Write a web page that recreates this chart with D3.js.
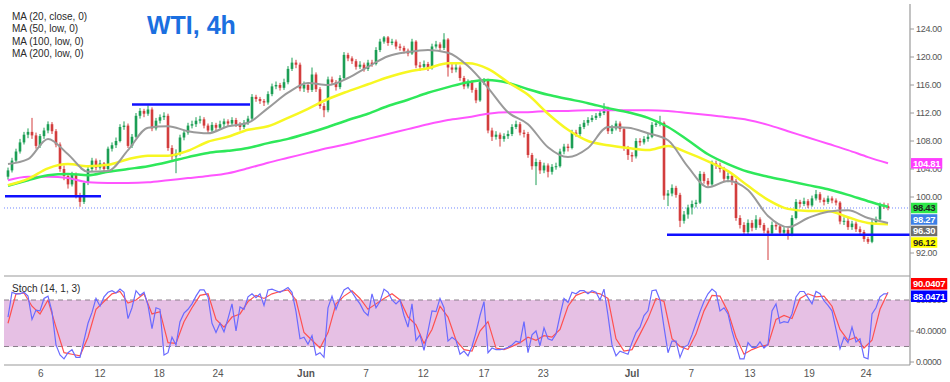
<!DOCTYPE html>
<html><head><meta charset="utf-8">
<script src="https://cdn.jsdelivr.net/npm/d3@7"></script>
<style>html,body{margin:0;padding:0;background:#fff;} svg{display:block;font-family:Arial,"Liberation Sans",sans-serif;}</style>
</head><body><svg id="c" width="950" height="382"></svg>
<script>
// ---------------- DATA ----------------
const firstOpen = 102.9;
const closes = [
103.8,105.2,106.5,107.8,108.9,109.3,108.8,107.3,108.7,109.5,
110.4,109.4,107.5,104.0,103.0,101.8,103.2,100.2,99.3,102.0,
104.0,105.2,104.2,104.8,104.0,106.9,107.4,108.0,110.0,110.2,
107.3,108.6,111.6,112.3,111.9,112.5,109.8,110.9,111.4,111.6,
107.0,105.8,106.2,108.5,109.2,110.2,110.4,110.9,111.1,110.2,
109.5,110.3,109.9,110.4,110.8,110.5,111.0,110.4,110.0,110.6,
111.2,114.3,114.0,113.7,113.5,114.7,115.8,116.0,115.6,116.4,
118.3,119.2,118.9,115.5,116.0,115.3,117.5,115.4,113.0,112.4,
116.8,116.4,115.7,117.0,120.3,119.8,119.4,118.6,118.9,118.3,
119.2,119.0,121.0,122.2,122.8,122.0,122.2,121.5,121.3,120.9,
120.5,122.2,118.8,118.6,119.0,118.4,121.5,121.8,121.3,122.5,
118.5,118.2,118.5,117.0,115.8,116.4,115.3,113.8,116.4,116.6,
109.5,108.6,108.9,108.3,108.7,109.0,110.0,110.4,109.2,109.0,
106.0,104.4,105.0,103.8,104.5,103.6,104.3,104.4,106.5,107.2,
107.0,109.2,109.0,110.0,110.6,111.0,111.3,111.6,112.0,112.6,
109.4,109.8,110.5,109.7,107.0,106.0,105.8,108.0,107.8,108.3,
108.6,110.3,110.5,110.6,100.2,100.5,101.3,100.3,96.6,97.5,
98.5,99.0,99.2,103.3,102.3,101.8,104.8,104.5,104.0,102.6,
103.0,102.3,97.0,96.0,95.0,96.3,95.6,96.8,96.0,95.2,
94.8,96.0,95.8,94.9,95.3,94.6,97.0,99.3,99.0,99.4,
98.8,99.8,100.4,99.6,99.3,99.8,99.5,99.2,96.5,96.6,
95.7,96.2,95.4,95.0,94.0,93.6,96.4,96.8,98.8,98.7,
98.43];
const highs = [
104.2,105.6,106.9,108.3,109.3,109.8,111.3,109.2,109.0,109.9,
110.8,110.7,109.7,107.8,104.5,103.4,103.6,103.5,100.6,102.3,
104.3,105.6,105.5,105.3,105.0,107.2,107.8,108.5,110.4,110.8,
110.5,109.0,112.0,112.7,112.6,113.1,112.8,111.3,111.8,112.1,
111.9,107.4,106.8,108.9,109.6,110.6,110.9,111.4,111.6,111.4,
110.5,110.7,110.6,110.9,111.2,111.1,111.4,111.3,110.7,111.0,
111.6,114.7,114.6,114.3,114.0,115.1,116.2,116.5,116.3,116.9,
118.7,119.9,119.6,119.2,116.5,116.3,118.5,117.8,115.7,113.4,
117.2,117.2,116.7,117.4,120.7,120.6,120.1,119.7,119.4,119.2,
119.6,119.6,121.4,122.6,123.0,123.0,122.6,122.5,121.9,121.6,
121.2,122.6,122.4,119.3,119.5,119.3,121.9,122.3,122.1,123.4,
122.7,119.0,119.0,118.8,117.3,116.8,116.7,115.6,116.8,117.0,
116.9,109.9,109.4,109.2,109.1,109.5,110.4,110.9,110.7,109.6,
109.3,106.3,105.5,105.3,104.9,104.8,104.7,104.9,106.9,107.6,
107.6,109.6,109.6,110.4,111.0,111.4,111.7,112.0,112.4,113.4,
112.9,110.3,110.9,110.8,110.0,107.3,106.4,108.4,108.4,108.7,
109.0,110.7,111.0,111.6,110.8,101.0,101.8,101.6,100.6,98.0,
98.9,99.5,99.6,103.7,103.6,102.7,105.2,105.2,104.9,104.3,
103.5,103.3,102.6,97.4,96.4,96.8,96.7,97.4,97.1,96.3,
95.6,96.5,96.4,96.1,95.7,95.6,97.4,99.7,99.6,99.9,
99.7,100.2,101.0,100.7,99.9,100.2,100.1,99.8,99.4,97.1,
97.0,96.6,96.5,95.8,95.3,94.3,96.8,97.2,99.2,99.2,
99.1];
const lows = [
102.5,103.5,104.9,106.2,107.5,108.4,108.3,106.9,107.0,108.3,
109.1,109.0,107.1,103.6,102.4,101.2,101.5,99.8,98.6,99.0,
101.7,103.7,103.8,103.9,103.4,103.8,106.5,107.0,107.8,109.6,
107.0,107.0,108.4,111.2,111.4,111.6,109.4,109.5,110.5,111.0,
106.6,105.3,103.4,105.9,108.1,108.9,109.8,110.0,110.5,109.8,
109.0,109.2,109.4,109.6,110.0,110.1,110.2,110.0,109.5,109.7,
110.3,111.0,113.6,113.3,113.0,113.2,114.4,115.4,115.2,115.3,
116.1,118.0,118.4,115.1,115.0,114.9,115.0,115.0,112.6,111.4,
112.1,116.0,115.2,115.4,116.8,119.4,119.0,118.2,118.3,117.9,
118.0,118.6,118.8,120.7,121.9,121.6,121.7,121.1,120.9,120.5,
120.1,120.3,118.4,118.0,118.2,118.0,118.2,121.2,120.9,121.0,
117.2,117.7,117.8,116.6,115.4,115.5,114.9,113.4,113.6,116.0,
109.1,108.0,108.2,107.2,107.9,108.3,108.7,109.7,108.8,108.5,
105.6,103.9,101.7,103.3,103.4,102.8,103.2,103.9,104.2,106.1,
106.5,106.8,108.6,108.7,109.7,110.2,110.7,111.0,111.3,111.7,
109.0,109.0,109.5,109.3,106.6,105.3,105.0,105.5,107.3,107.5,
107.9,108.4,110.0,110.1,99.6,98.7,100.1,99.9,95.7,96.2,
96.9,97.5,98.5,99.0,101.9,101.3,101.6,104.0,103.5,102.2,
102.1,101.7,96.6,95.5,94.5,94.7,95.1,95.3,95.6,94.8,
91.0,94.5,95.3,94.5,94.6,93.9,94.4,96.8,98.5,98.7,
98.4,98.6,99.5,99.2,98.8,99.0,99.1,98.8,96.1,96.0,
95.3,95.3,95.0,94.6,93.6,93.3,93.4,96.0,96.6,98.3,
98.1];

// Moving averages, one value every 5 bars
const maStep = 5;
const ma20 = [104.7,105.4,108.3,106.1,103.6,103.7,106.7,109.9,110.1,109.4,109.1,110.1,110.6,112.7,114.9,116.3,116.0,117.0,118.6,120.1,120.7,121.0,120.6,118.7,115.6,112.1,110.4,107.1,105.7,107.0,110.0,109.9,109.1,108.1,104.3,101.4,102.3,101.0,97.3,95.7,97.0,97.9,98.1,97.0,96.30];
const ma50 = [101.7,102.6,104.1,104.7,104.4,104.6,105.4,105.9,105.9,106.6,107.9,108.6,109.6,110.1,111.3,112.6,114.0,115.1,116.1,117.1,117.9,118.4,119.1,119.1,118.3,116.4,114.6,111.9,109.6,108.0,107.4,107.0,106.7,107.3,106.3,105.1,103.7,101.6,99.6,98.3,98.0,98.0,97.1,96.3,96.12];
const ma100 = [101.6,102.4,103.1,103.3,103.1,103.6,104.0,104.4,105.0,105.7,106.3,106.6,107.0,107.7,108.3,109.1,110.0,111.0,111.9,113.0,113.9,114.9,115.7,116.4,116.7,116.3,115.4,114.6,114.0,113.4,112.7,112.1,111.3,110.0,108.1,106.1,104.7,103.6,102.9,102.3,101.7,101.1,100.3,99.4,98.6];
const ma200 = [102.4,102.9,102.9,102.7,102.1,102.0,102.0,102.1,102.4,102.7,103.0,103.4,104.1,104.9,105.6,106.3,107.0,107.6,108.3,109.0,109.7,110.4,111.0,111.4,111.9,112.1,112.1,112.3,112.3,112.4,112.4,112.4,112.4,112.3,112.0,111.7,111.4,111.0,110.3,109.4,108.5,107.6,106.7,105.7,104.81];

// Stochastic %K (every bar) and %D (every 2 bars)
const stochK = [
58,90,88,88,90,85,55,67,66,82,
85,65,22,9,4,12,16,6,6,28,
50,64,82,72,84,90,92,89,94,90,
56,70,92,86,90,73,43,70,68,9,
12,32,22,52,63,68,75,85,93,93,
84,50,38,50,39,56,75,40,71,68,
84,88,83,88,73,93,94,92,90,93,
96,90,65,30,32,23,34,9,12,6,
70,85,68,82,93,96,90,82,75,65,
60,88,70,78,94,90,80,75,80,60,
45,75,28,35,15,40,66,65,82,70,
27,32,28,10,14,8,20,38,60,78,
12,18,16,16,17,19,22,27,25,52,
12,35,40,21,44,30,28,36,60,82,
77,90,88,92,92,88,92,90,80,94,
60,22,8,14,12,10,25,38,45,60,
66,92,93,80,45,12,27,27,6,19,
22,35,50,65,78,88,94,90,66,70,
62,40,22,4,4,25,19,19,26,18,
23,66,75,50,52,51,62,84,91,91,
83,75,91,88,79,73,66,42,17,32,
25,45,26,30,6,4,62,70,84,88,
88.0471];
const dStep = 2;
const stochD = [
50,88,89,72,62,80,45,12,10,8,
32,68,78,88,91,76,80,88,62,65,
25,24,52,70,86,88,55,45,58,62,
78,86,82,88,91,93,80,38,28,18,
38,75,85,92,82,68,75,82,88,80,
58,48,24,42,72,58,28,16,14,40,
52,18,16,20,25,32,28,34,32,42,
72,86,90,90,88,82,30,14,16,36,
56,82,78,30,20,16,36,66,86,85,
65,32,10,16,20,22,55,60,56,82,
88,84,85,72,42,28,32,18,28,68,
90.0407];

// Axes (96.00 sits fully under the value tags in the reference, so it is not labelled)
const dateTickBars = [8.2,23,37.8,52.5,74.5,89.5,103.8,119,133.8,156,170.8,185.5,200.3,214.5];
const dateTickLabels = ["6","12","18","24","Jun","7","12","17","23","Jul","7","13","19","24"];
const priceTicks = [92,100,104,108,112,116,120,124];
const stochTicks = [0,40,80];

// Horizontal levels (blue)
const levelPrices = [100.1,113.2,94.6];
const levelFromBar = [-0.75,31,164.75];
const levelToBar = [23.25,60.5,225.5];

const legendLabels = ["MA (20, close, 0)","MA (50, low, 0)","MA (100, low, 0)","MA (200, low, 0)"];
const lastPrice = 98.43;
const priceTagValues = [104.81,98.43,98.27,96.30,96.12];
const stochTagValues = [90.0407,88.0471];

// ---------------- STYLE ----------------
const C = {
  up:"#1c9e55", down:"#d33d3d", ma20:"#9a9a9a", ma50:"#f7f722", ma100:"#2ee85a", ma200:"#ff55ff",
  level:"#1010ff", axis:"#9a9a9a", text:"#555", k:"#6a6aff", d:"#ff5050", band:"#e6c0e4"
};
const tagStyles = [
  {bg:"#ff3dff",fg:"#fff"},{bg:"#2fe84a",fg:"#222"},{bg:"#3c7fe6",fg:"#fff"},{bg:"#6e6e6e",fg:"#fff"},{bg:"#ffff00",fg:"#222"}
];
const stochTagStyles = [{bg:"#ff0000",fg:"#fff"},{bg:"#0000ff",fg:"#fff"}];

const svg = d3.select("#c");
const N = closes.length;
const x = d3.scaleLinear().domain([0, N-1]).range([8, 888]);
const y = d3.scaleLinear().domain([92, 124]).range([253, 29]);
const ys = d3.scaleLinear().domain([0, 100]).range([362, 284.5]);
const L = 4, R = 910, mainBottom = 276, stochBottom = 365;

const bars = closes.map((c,i)=>({i, o: i===0?firstOpen:closes[i-1], c, h: highs[i], l: lows[i]}));

const defs = svg.append("defs");
defs.append("clipPath").attr("id","mainClip").append("rect").attr("x",L).attr("y",0).attr("width",R-L).attr("height",mainBottom);
defs.append("clipPath").attr("id","stClip").append("rect").attr("x",L).attr("y",mainBottom).attr("width",R-L).attr("height",stochBottom-mainBottom);

// ---------- Stoch panel ----------
const st = svg.append("g").attr("clip-path","url(#stClip)");
st.append("rect").attr("x",L).attr("width",R-L).attr("y",ys(80)).attr("height",ys(20)-ys(80)).attr("fill",C.band);
[80,20].forEach(v=>{
  st.append("line").attr("x1",L).attr("x2",R).attr("y1",ys(v)).attr("y2",ys(v))
    .attr("stroke","#8a7f8a").attr("stroke-width",1).attr("stroke-dasharray","5,4");
});
st.append("path").datum(stochD).attr("fill","none").attr("stroke",C.d).attr("stroke-width",1.2)
  .attr("d", d3.line().x((d,k)=>x(k*dStep)).y(d=>ys(d)));
st.append("path").datum(stochK).attr("fill","none").attr("stroke",C.k).attr("stroke-width",1.2)
  .attr("d", d3.line().x((d,i)=>x(i)).y(d=>ys(d)));

// ---------- Main panel ----------
const main = svg.append("g").attr("clip-path","url(#mainClip)");

main.append("line").attr("x1",L).attr("x2",R).attr("y1",y(lastPrice)).attr("y2",y(lastPrice))
  .attr("stroke","#6f86ff").attr("stroke-width",1).attr("stroke-dasharray","1,2");

const cg = main.append("g");
cg.selectAll("line.w").data(bars).join("line").attr("class","w")
  .attr("x1",d=>x(d.i)).attr("x2",d=>x(d.i)).attr("y1",d=>y(d.h)).attr("y2",d=>y(d.l))
  .attr("stroke",d=>d.c>=d.o?C.up:C.down).attr("stroke-width",1);
cg.selectAll("rect.b").data(bars).join("rect").attr("class","b")
  .attr("x",d=>x(d.i)-1.3).attr("width",2.6)
  .attr("y",d=>y(Math.max(d.o,d.c)))
  .attr("height",d=>Math.max(1, Math.abs(y(d.o)-y(d.c))))
  .attr("fill",d=>d.c>=d.o?C.up:C.down);

const maLine = d3.line().x((d,k)=>x(k*maStep)).y(d=>y(d)).curve(d3.curveMonotoneX);
[[ma200,C.ma200,2],[ma100,C.ma100,2.5],[ma50,C.ma50,2.5],[ma20,C.ma20,2]].forEach(([arr,col,w])=>{
  main.append("path").datum(arr).attr("fill","none").attr("stroke",col).attr("stroke-width",w)
    .attr("stroke-linejoin","round").attr("d",maLine);
});

levelPrices.forEach((p,k)=>{
  main.append("line").attr("x1",x(levelFromBar[k])).attr("x2",x(levelToBar[k]))
    .attr("y1",y(p)).attr("y2",y(p)).attr("stroke",C.level).attr("stroke-width",2.5);
});

// ---------- frame lines ----------
svg.append("line").attr("x1",L).attr("x2",R).attr("y1",mainBottom).attr("y2",mainBottom).attr("stroke",C.axis).attr("stroke-width",1.2);
svg.append("line").attr("x1",L).attr("x2",R).attr("y1",stochBottom).attr("y2",stochBottom).attr("stroke",C.axis).attr("stroke-width",1.2);
svg.append("line").attr("x1",R).attr("x2",R).attr("y1",4).attr("y2",stochBottom).attr("stroke",C.axis).attr("stroke-width",1.2);

// price axis
const pa = svg.append("g");
priceTicks.forEach(p=>{
  pa.append("line").attr("x1",R).attr("x2",R+4).attr("y1",y(p)).attr("y2",y(p)).attr("stroke",C.axis);
  pa.append("text").attr("x",R+6).attr("y",y(p)).attr("dy","0.35em").attr("font-size",9).attr("letter-spacing",-0.3)
    .attr("fill",C.text).text(d3.format(".2f")(p));
});
stochTicks.forEach(v=>{
  pa.append("line").attr("x1",R).attr("x2",R+4).attr("y1",ys(v)).attr("y2",ys(v)).attr("stroke",C.axis);
  pa.append("text").attr("x",R+6).attr("y",ys(v)).attr("dy","0.35em").attr("font-size",9).attr("letter-spacing",-0.4)
    .attr("fill",C.text).text(d3.format(".4f")(v));
});

// date axis
dateTickBars.forEach((b,k)=>{
  const isMonth = /[A-Za-z]/.test(dateTickLabels[k]);
  svg.append("text").attr("x",x(b)).attr("y",376.5).attr("text-anchor","middle").attr("font-size",10)
    .attr("font-weight",isMonth?"bold":"normal").attr("fill",C.text).text(dateTickLabels[k]);
});

// value tags
function drawTags(values, styles, scale, h, mode){
  let items = values.map((v,k)=>({v, k, cy: scale(v)})).sort((a,b)=>a.cy-b.cy);
  if(mode==="down"){
    for(let j=1;j<items.length;j++){ if(items[j].cy < items[j-1].cy + h) items[j].cy = items[j-1].cy + h; }
  } else {
    const m = d3.mean(items, d=>d.cy);
    items.forEach((d,j)=>{ d.cy = m + (j-(items.length-1)/2)*h - 3; });
  }
  items.forEach(d=>{
    const g = svg.append("g");
    const t = g.append("text").attr("x",R+3).attr("y",d.cy).attr("dy","0.36em").attr("font-size",9.5).attr("font-weight","bold")
      .attr("letter-spacing",-0.3).attr("fill",styles[d.k].fg).text(values[d.k].toFixed(mode==="down"?2:4));
    const w = t.node().getComputedTextLength();
    g.insert("rect","text").attr("x",R+1).attr("y",d.cy-h/2+0.5).attr("width",w+4).attr("height",h-1).attr("fill",styles[d.k].bg);
  });
}
drawTags(priceTagValues, tagStyles, y, 11.5, "down");
drawTags(stochTagValues, stochTagStyles, ys, 12.5, "center");

// legend & title
legendLabels.forEach((t,k)=>{
  svg.append("text").attr("x",12).attr("y",20+k*12.4).attr("font-size",10).attr("fill","#2a2a2a").text(t);
});
svg.append("text").attr("x",147).attr("y",34).attr("font-size",25).attr("font-weight","bold").attr("fill","#1b6fe0").text("WTI, 4h");
svg.append("text").attr("x",12).attr("y",292).attr("font-size",10).attr("fill","#2a2a2a").text("Stoch (14, 1, 3)");
</script>
</body></html>
